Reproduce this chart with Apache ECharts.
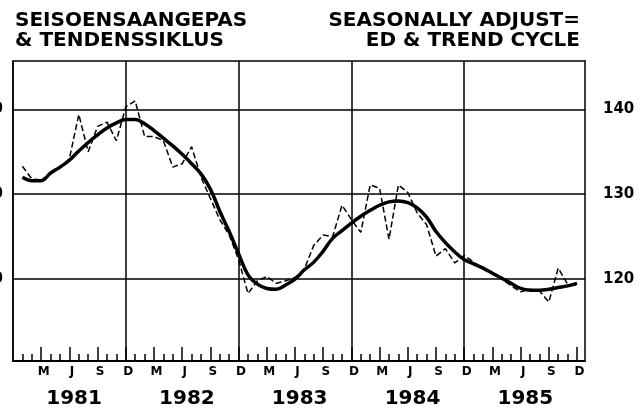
<!DOCTYPE html>
<html>
<head>
<meta charset="utf-8">
<script src="https://cdn.jsdelivr.net/npm/echarts@6/dist/echarts.min.js"></script>
<style>
    html, body {margin: 0; padding: 0; background: #fff;}
    #container {width: 640px; height: 409px;}
</style>
</head>
<body>
<div id="container"></div>
<script>
// monthly values, Jan 1981 .. Dec 1985
var adjusted = [
    133.3, 131.8, 131.7, 132.4, 133.1, 134.2, 139.4, 135.0, 138.0, 138.5, 136.3, 140.3,
    141.0, 136.8, 136.8, 136.3, 133.2, 133.6, 135.6, 132.0, 129.5, 127.0, 125.2, 122.3,
    118.3, 119.8, 120.3, 119.5, 119.8, 120.2, 121.2, 124.0, 125.2, 125.0, 128.7, 127.0,
    125.5, 131.1, 130.7, 124.7, 131.1, 130.2, 127.8, 126.4, 122.7, 123.6, 121.9, 122.8,
    122.0, 121.2, 120.6, 120.0, 119.2, 118.5, 118.8, 118.6, 117.3, 121.3, 119.4, 119.2
];
var trend = [
    132.0, 131.6, 131.6, 132.5, 133.2, 134.0, 135.1, 136.1, 137.0, 137.8, 138.4, 138.8,
    138.8, 138.3, 137.5, 136.6, 135.7, 134.7, 133.6, 132.4, 130.6, 128.0, 125.6, 123.0,
    120.5, 119.4, 118.9, 118.8, 119.3, 120.0, 121.1, 122.0, 123.3, 124.8, 125.7, 126.6,
    127.4, 128.1, 128.7, 129.1, 129.2, 129.0, 128.4, 127.3, 125.6, 124.3, 123.2, 122.3,
    121.8, 121.3, 120.7, 120.1, 119.5, 118.9, 118.7, 118.7, 118.8, 119.0, 119.2, 119.5
];
var quarterLabels = ['M', 'J', 'S', 'D'];
var years = ['1981', '1982', '1983', '1984', '1985'];
var yTicks = [120, 130, 140];

window.onload = function () {
    createChart();
};

function createChart() {
    var dom = document.getElementById("container");
    var myChart = echarts.init(dom, null, {renderer: 'canvas'});

    var quarterTicks = [], monthTicks = [], yearLines = [], yearCenters = [];
    for (var m = 1; m <= 60; m++) {
        if (m % 3 == 0) {
            quarterTicks.push(m);
        } else {
            monthTicks.push(m);
        }
    }
    for (var i = 0; i < years.length; i++) {
        yearLines.push(i * 12);
        yearCenters.push(i * 12 + 6.5);
    }
    var adjustedData = adjusted.map(function (v, i) { return [i + 1, v]; });
    var trendData = trend.map(function (v, i) { return [i + 1, v]; });

    var font = 'DejaVu Sans';
    var xMin = 0, xMax = 60.85, yMin = 110.35, yMax = 145.7;
    var hidden = {show: false};

    function gridBox() {
        return {left: 13, right: 55, top: 61, bottom: 48, containLabel: false, outerBoundsMode: 'none'};
    }

    function titleItem(text, pos) {
        var t = {
            text: text,
            padding: 0,
            textStyle: {fontFamily: font, fontSize: 20, fontWeight: 'bold', color: '#000', lineHeight: 20}
        };
        for (var k in pos) t[k] = pos[k];
        return t;
    }

    var option = {
        backgroundColor: '#fff',
        animation: false,
        title: [
            titleItem('SEISOENSAANGEPAS', {left: 15, top: 11}),
            titleItem('& TENDENSSIKLUS', {left: 15, top: 31}),
            titleItem('SEASONALLY ADJUST=', {right: 60, top: 11}),
            titleItem('ED & TREND CYCLE', {right: 60, top: 31})
        ],
        grid: [gridBox(), gridBox(), gridBox()],
        xAxis: [
            {
                // quarter ticks and month letters
                type: 'value', gridIndex: 0, position: 'bottom', min: xMin, max: xMax,
                axisLine: {show: true, onZero: false, lineStyle: {color: '#000', width: 2}},
                axisTick: {show: true, inside: true, length: 14, customValues: quarterTicks, lineStyle: {color: '#000', width: 1.5}},
                axisLabel: {
                    show: true, customValues: quarterTicks, margin: 5, padding: [0, 0, 0, 5],
                    fontFamily: font, fontSize: 12, fontWeight: 'bold', color: '#000',
                    formatter: function (v) { return quarterLabels[(Math.round(v) / 3 - 1) % 4]; }
                },
                splitLine: hidden
            },
            {
                // year grid lines
                type: 'value', gridIndex: 0, position: 'top', min: xMin, max: xMax,
                axisLine: {show: true, onZero: false, lineStyle: {color: '#000', width: 1.5}},
                axisTick: {show: false, customValues: yearLines},
                axisLabel: hidden,
                splitLine: {show: true, lineStyle: {color: '#000', width: 1.5}}
            },
            {
                // month ticks
                type: 'value', gridIndex: 1, position: 'bottom', min: xMin, max: xMax,
                axisLine: hidden,
                axisTick: {show: true, inside: true, length: 7, customValues: monthTicks, lineStyle: {color: '#000', width: 1.5}},
                axisLabel: hidden,
                splitLine: hidden
            },
            {
                // years
                type: 'value', gridIndex: 2, position: 'bottom', min: xMin, max: xMax,
                axisLine: hidden,
                axisTick: {show: false, customValues: yearCenters},
                axisLabel: {
                    show: true, customValues: yearCenters, margin: 28,
                    fontFamily: font, fontSize: 20, fontWeight: 'bold', color: '#000', lineHeight: 20,
                    formatter: function (v) { return years[Math.floor(v / 12)]; }
                },
                splitLine: hidden
            }
        ],
        yAxis: [
            {
                type: 'value', gridIndex: 0, position: 'left', min: yMin, max: yMax,
                axisLine: {show: true, onZero: false, lineStyle: {color: '#000', width: 1.5}},
                axisTick: {show: false, customValues: yTicks},
                axisLabel: {show: true, customValues: yTicks, margin: 10, fontFamily: font, fontSize: 15, fontWeight: 'bold', color: '#000'},
                splitLine: {show: true, lineStyle: {color: '#000', width: 1.5}}
            },
            {
                type: 'value', gridIndex: 0, position: 'right', min: yMin, max: yMax,
                axisLine: {show: true, onZero: false, lineStyle: {color: '#000', width: 1.5}},
                axisTick: {show: false, customValues: yTicks},
                axisLabel: {show: true, customValues: yTicks, margin: 18, fontFamily: font, fontSize: 15, fontWeight: 'bold', color: '#000'},
                splitLine: hidden
            },
            {type: 'value', gridIndex: 1, min: yMin, max: yMax, show: false},
            {type: 'value', gridIndex: 2, min: yMin, max: yMax, show: false}
        ],
        series: [
            {
                name: 'Seasonally adjusted',
                type: 'line',
                xAxisIndex: 0, yAxisIndex: 0,
                data: adjustedData,
                showSymbol: false,
                lineStyle: {color: '#000', width: 1.5, type: [6, 3]}
            },
            {
                name: 'Trend cycle',
                type: 'line',
                xAxisIndex: 0, yAxisIndex: 0,
                data: trendData,
                smooth: 0.4,
                showSymbol: false,
                lineStyle: {color: '#000', width: 3.5}
            }
        ]
    };
    myChart.setOption(option, true);
}
</script>
</body>
</html>
